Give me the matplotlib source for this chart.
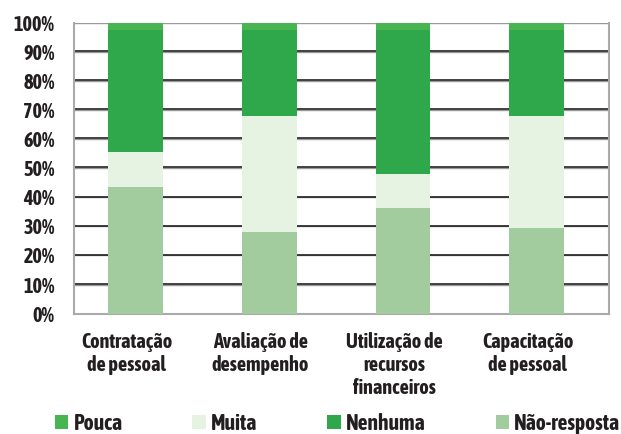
import matplotlib
matplotlib.use("Agg")
import matplotlib.pyplot as plt
import matplotlib.transforms as mtransforms
import numpy as np

plt.rcParams['font.family'] = ['Asap Condensed', 'DejaVu Sans']
plt.rcParams['font.weight'] = 'bold'

categorias = ['Contratação\nde pessoal', 'Avaliação de\ndesempenho',
              'Utilização de\nrecursos\nfinanceiros', 'Capacitação\nde pessoal']
nao_resposta = [43.5, 28.1, 36.3, 29.4]
muita = [12.0, 39.9, 11.7, 38.5]
nenhuma = [42.0, 29.5, 49.5, 29.6]
pouca = [2.5, 2.5, 2.5, 2.5]

cores = {'Pouca': '#46b552', 'Muita': '#e6f2e2',
         'Nenhuma': '#2ea84b', 'Não-resposta': '#a2cb9e'}
texto = '#231f20'

fig = plt.figure(figsize=(6.21, 4.34), dpi=100)
ax = fig.add_axes([0.1192, 0.2772, 0.8615, 0.6705])

x = np.arange(len(categorias))
w = 0.41
b1 = ax.bar(x, nao_resposta, w, color=cores['Não-resposta'], zorder=3)
b2 = ax.bar(x, muita, w, bottom=nao_resposta, color=cores['Muita'], zorder=3)
base = np.array(nao_resposta) + np.array(muita)
b3 = ax.bar(x, nenhuma, w, bottom=base, color=cores['Nenhuma'], zorder=3)
base = base + np.array(nenhuma)
b4 = ax.bar(x, pouca, w, bottom=base, color=cores['Pouca'], zorder=3)

ax.set_ylim(0, 100)
ax.set_xlim(-0.46, 3.54)
ax.set_yticks(range(0, 101, 10))
ax.set_yticklabels([f'{v}%' for v in range(0, 101, 10)], fontsize=14.5, color=texto)
ax.set_xticks(x)
ax.set_xticklabels(categorias, fontsize=14.5, color=texto, linespacing=1.2)
ax.tick_params(axis='both', length=0)
ax.tick_params(axis='y', pad=14)
ax.tick_params(axis='x', pad=13)
shift = mtransforms.ScaledTranslation(-9 / 100, 0, fig.dpi_scale_trans)
for lab in ax.get_xticklabels():
    lab.set_transform(lab.get_transform() + shift)

for v in range(10, 101, 10):
    ax.axhline(v, color='#999999', lw=1.0, zorder=1)
    ax.axhline(v + 0.25, color='#222222', lw=1.2, zorder=1)

for s in ['left', 'right', 'bottom']:
    ax.spines[s].set_color('#aaaaaa')
    ax.spines[s].set_linewidth(1.5)
ax.spines['top'].set_visible(False)

handles = [b4, b2, b3, b1]
nomes = ['Pouca', 'Muita', 'Nenhuma', 'Não-resposta']
fig.legend(handles, nomes, loc='center left', bbox_to_anchor=(0.088, 0.024),
           ncol=4, frameon=False, fontsize=15.5, handlelength=0.62, handleheight=0.62,
           handletextpad=0.25, columnspacing=3.25, labelcolor=texto,
           borderaxespad=0, borderpad=0)

fig.savefig('out.png', dpi=100)
